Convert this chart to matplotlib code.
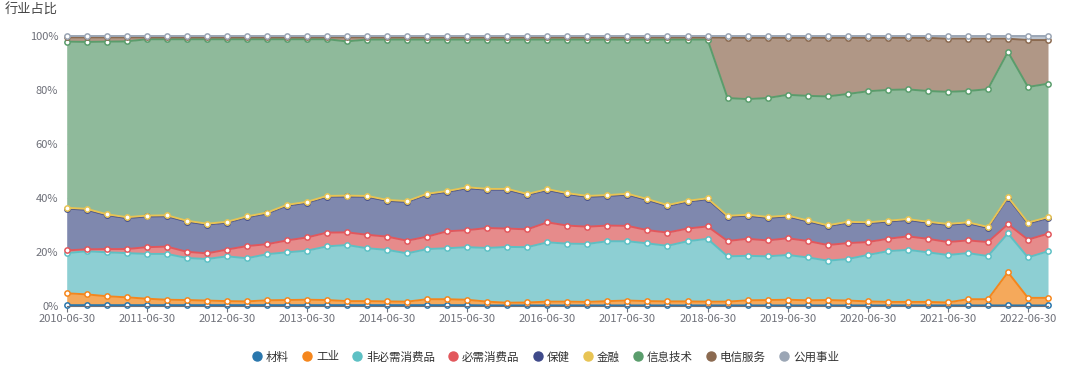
import numpy as np
import matplotlib
matplotlib.use("Agg")
import matplotlib.pyplot as plt
from matplotlib.lines import Line2D

plt.rcParams['font.family'] = ['Noto Sans CJK SC', 'DejaVu Sans']

# quarterly dates 2010-06-30 .. 2022-09-30
dates = []
for y in range(2010, 2023):
    for md in ["03-31", "06-30", "09-30", "12-31"]:
        dates.append(f"{y}-{md}")
dates = dates[1:-1]  # 2010-06-30 .. 2022-09-30 (50 points)

names = ["材料", "工业", "非必需消费品", "必需消费品", "保健", "金融", "信息技术", "电信服务", "公用事业"]

materials = [0.2]*21 + [0.1]*29
industrials = [4.4, 4.0, 3.3, 2.9, 2.4, 2.0, 1.9, 1.7, 1.5, 1.4, 1.8, 1.9,
               2.0, 1.9, 1.5, 1.5, 1.4, 1.3, 2.2, 2.2, 2.0, 1.4, 1.0, 1.1, 1.4,
               1.4, 1.3, 1.6, 1.8, 1.6, 1.5, 1.5, 1.4, 1.4, 1.9, 2.0, 2.1,
               1.9, 2.0, 1.8, 1.5, 1.3, 1.3, 1.3, 1.1, 2.3, 2.3, 12.3, 2.8, 2.8]
cons_disc = [14.9, 16.0, 16.3, 16.4, 16.6, 17.0, 15.6, 15.4, 16.6, 16.0, 17.1, 17.7,
             18.2, 19.9, 20.8, 19.6, 19.1, 17.9, 18.6, 18.9, 19.5, 19.9, 20.7, 20.5, 22.0,
             21.5, 21.5, 22.2, 22.0, 21.4, 20.6, 22.3, 23.3, 16.8, 16.5, 16.2, 16.6,
             15.9, 14.6, 15.4, 17.2, 18.8, 19.3, 18.4, 17.6, 17.1, 16.0, 14.4, 15.0, 17.3]
cons_staples = [1.0, 0.7, 1.2, 1.5, 2.5, 2.7, 2.3, 2.1, 2.5, 4.5, 3.7, 4.4,
                4.9, 5.1, 4.7, 5.0, 4.9, 4.7, 4.6, 6.3, 6.3, 7.4, 6.8, 6.6, 7.4,
                6.7, 6.4, 5.8, 5.7, 4.9, 4.9, 4.7, 4.6, 5.7, 6.3, 5.9, 6.2,
                6.1, 5.8, 5.9, 4.8, 4.6, 5.0, 5.0, 4.8, 4.7, 5.2, 3.4, 6.6, 6.5]
health = [15.5, 14.7, 12.6, 11.5, 11.4, 11.3, 11.2, 10.7, 10.0, 10.7, 11.4, 12.9,
          12.9, 13.3, 13.3, 14.1, 13.3, 14.4, 15.6, 14.6, 15.6, 14.2, 14.4, 12.8, 12.0,
          11.7, 11.1, 11.0, 11.6, 11.2, 9.9, 10.0, 10.1, 9.0, 8.6, 8.4, 8.1,
          7.3, 7.0, 7.6, 7.0, 6.4, 6.1, 6.0, 6.4, 6.4, 5.3, 9.8, 6.0, 5.8]
financials = [0.3]*50
info_tech = [61.6, 61.9, 64.0, 65.2, 65.4, 65.3, 67.3, 68.4, 67.7, 65.7, 64.3, 61.4,
             60.3, 58.1, 57.2, 58.0, 59.5, 59.9, 57.2, 56.2, 54.8, 55.4, 55.4, 57.3, 55.5,
             57.0, 58.0, 57.7, 57.2, 59.2, 61.4, 59.8, 58.9, 43.7, 42.9, 44.1, 44.8,
             46.2, 47.8, 47.4, 48.6, 48.5, 48.1, 48.5, 49.0, 48.7, 51.1, 53.8, 50.3, 49.5]
telecom = [1.6, 1.7, 1.6, 1.5] + [0.7]*10 + [1.5] + [0.8]*18 + \
          [22.3, 22.7, 22.3, 21.1, 21.5, 21.7, 20.8, 19.8, 19.3, 19.1, 19.7,
           19.7, 19.4, 18.7, 4.9, 17.4, 16.2]
utilities = [0.5]*33 + [0.7]*11 + [1.0]*4 + [1.5]*2

series = [materials, industrials, cons_disc, cons_staples, health, financials,
          info_tech, telecom, utilities]
line_colors = ["#2a77ad", "#f5861c", "#5dc0c4", "#e2575c", "#3f4a8a", "#e8c454",
               "#5a9d6c", "#8b6a50", "#9ba6b5"]
fill_colors = ["#6ea3c6", "#f5a95b", "#8dcfd3", "#e68b8b", "#7f88ae", "#efd68f",
               "#8fba9b", "#b09786", "#bcc3cd"]

fig = plt.figure(figsize=(10.8, 3.69), dpi=100)
ax = fig.add_axes([66.7/1080, (369-305.7)/369, (1048-66.7)/1080, 269.7/369])

x = np.arange(len(dates))
data = np.array(series, dtype=float)
cum = np.cumsum(data, axis=0)

ax.set_ylim(0, 100)
ax.set_xlim(0, len(dates) - 1)
for v in range(20, 101, 20):
    ax.axhline(v, color="#e0e6f1", lw=0.8, zorder=0)

prev = np.zeros(len(dates))
for i in range(len(series)):
    ax.fill_between(x, prev, cum[i], color=fill_colors[i], lw=0, zorder=1 + i * 0.01)
    prev = cum[i]
for i in range(len(series)):
    ax.plot(x, cum[i], color=line_colors[i], lw=1.4, marker='o', markersize=3.8,
            markerfacecolor="white", markeredgecolor=line_colors[i], markeredgewidth=1.1,
            zorder=3 + i * 0.1, clip_on=False)

ax.set_yticks(range(0, 101, 20))
ax.set_yticklabels([f"{v}%" for v in range(0, 101, 20)])
ax.set_xticks(x[::4])
ax.set_xticklabels(dates[::4])
ax.tick_params(axis='y', length=0, labelsize=8, labelcolor="#6e7079", pad=6)
ax.tick_params(axis='x', length=4, width=0.8, color="#6e7079", labelsize=8,
               labelcolor="#6e7079", pad=2)
for s in ["top", "right", "left"]:
    ax.spines[s].set_visible(False)
ax.spines["bottom"].set_color("#6e7079")
ax.spines["bottom"].set_linewidth(0.8)
ax.spines["bottom"].set_zorder(5)

fig.text(5/1080, 1 - 10/369, "行业占比", fontsize=9.5, color="#464646", va="center", ha="left")

handles = [Line2D([0], [0], marker='o', linestyle='', markersize=6.5,
                  markerfacecolor=c, markeredgecolor=c) for c in line_colors]
fig.legend(handles, names, loc="center", bbox_to_anchor=(545/1080, 12/369), ncol=9,
           frameon=False, fontsize=8.3, handletextpad=0.3, columnspacing=1.05,
           labelcolor="#333333", handlelength=1.0)

fig.savefig("out.png", dpi=100)
